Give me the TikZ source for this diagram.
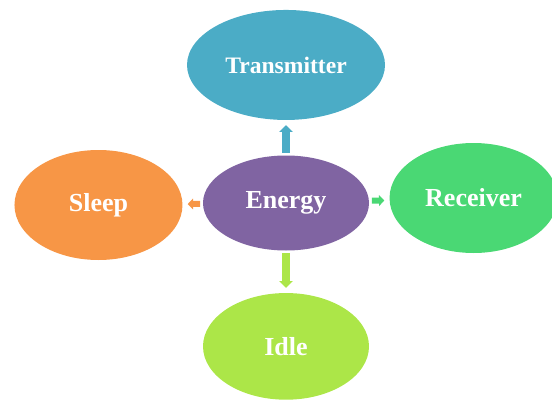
\documentclass[tikz,border=0pt]{standalone}
\usepackage{fontspec}
\setmainfont{Liberation Serif}
\usetikzlibrary{arrows.meta, shapes.geometric, positioning}

\definecolor{txblue}{RGB}{75,172,198}
\definecolor{enpurple}{RGB}{128,100,162}
\definecolor{slorange}{RGB}{247,150,70}
\definecolor{rxgreen}{RGB}{74,216,116}
\definecolor{idlime}{RGB}{172,230,72}

\begin{document}
\begin{tikzpicture}[
            x = 0.75pt, y = -0.75pt, % pixel grid, y pointing down
            > = {Triangle[width=10pt, length=5pt]}, % block arrow head
            node distance = 15pt % gap between ellipses
        ]

        \tikzstyle{blob}=[
            ellipse,
            inner sep = 0pt,
            text = white,
            font = \bfseries\fontsize{19.5}{20}\selectfont,
            minimum width = 126pt,
            minimum height = 82.5pt
        ]
        \tikzstyle{link}=[
            ->,
            line width = 6pt,
            shorten < = 2pt, % small gap at the start
            shorten > = 3.75pt % and at the head
        ]

        \useasboundingbox (0,0) rectangle (552,399);

        \node[blob, fill=enpurple, minimum width=124.5pt, minimum height=71.25pt] (e) at (286,203) {Energy};
        \node[blob, fill=txblue, minimum width=148.5pt,
              font=\bfseries\fontsize{17.7}{18}\selectfont] (t) [above=26.25pt of e] {Transmitter};
        \node[blob, fill=slorange, yshift=-1.5pt] (s) [left=of e] {Sleep};
        \node[blob, fill=rxgreen, yshift=3.75pt] (r) [right=of e] {Receiver};
        \node[blob, fill=idlime, minimum width=124.5pt, minimum height=80pt] (i) [below=31.5pt of e] {Idle};

        \path[link, color=txblue] (e) edge (t);
        \path[link, color=idlime] (e) edge (i);
        \path[link, color=slorange, line width=4.5pt,
              > = {Triangle[width=8pt, length=4pt]}] (e) edge (s);
        \path[link, color=rxgreen, line width=4.5pt,
              > = {Triangle[width=8pt, length=4pt]}] (e) edge (r);

  \end{tikzpicture}
\end{document}
